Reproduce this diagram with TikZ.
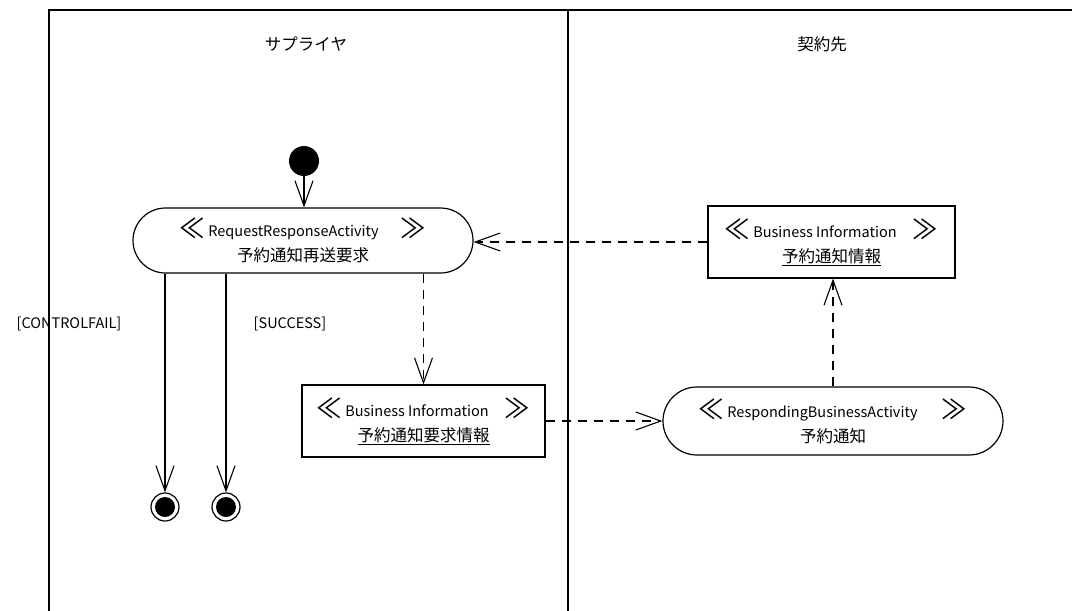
\documentclass[tikz,border=0pt]{standalone}
\usepackage{fontspec}
\usepackage{graphicx}
\setmainfont{Noto Sans CJK JP}
\usetikzlibrary{arrows.meta}
\newcommand{\jpl}[1]{{\fontsize{16.5}{25}\selectfont #1}}
\newcommand{\lguil}{\raisebox{-2pt}{\scalebox{1.5}[1.6]{\fontsize{17}{25}\selectfont ≪}}\hspace{3pt}}
\newcommand{\rguil}{\raisebox{-2pt}{\scalebox{1.5}[1.6]{\fontsize{17}{25}\selectfont ≫}}}
\begin{document}
\begin{tikzpicture}[x=1pt,y=-1pt,
  every node/.style={font=\fontsize{14.5}{25}\selectfont, inner sep=0pt},
  frame/.style={line width=1.3pt},
  actbox/.style={draw, line width=1.2pt, align=center, minimum width=340pt},
  infobox/.style={draw, line width=1.2pt, align=center, minimum height=72pt},
  arr/.style={line width=1.1pt, -{Straight Barb[length=25pt,width=18pt,line width=1.1pt]}},
  darr/.style={arr, dash pattern=on 9pt off 7pt},
  finalnode/.style={circle, draw, line width=1.2pt, minimum size=28pt,
    path picture={\fill (path picture bounding box.center) circle (10pt);}}
]
\useasboundingbox (0,0) rectangle (1072,611);
% swimlanes
\draw[frame] (49,611) -- (49,10) -- (1072,10);
\draw[frame] (568,10) -- (568,611);
\node (lane1) at (306,44) {\jpl{サプライヤ}};
\node (lane2) at (822,44) {\jpl{契約先}};

% start
\node[circle, fill, minimum size=30pt] (start) at (304,161) {};

% activities
\node[actbox, rounded corners=32.5pt, minimum height=65pt] (rra) at (303,240.5)
  {\lguil RequestResponseActivity\hspace{22pt}\rguil\\\jpl{予約通知再送要求}};
\node[actbox, rounded corners=34pt, minimum height=68pt] (rba) at (833,421)
  {\lguil RespondingBusinessActivity\hspace{24pt}\rguil\\\jpl{予約通知}};

% information boxes
\node[infobox, minimum width=243pt] (bi1) at (423.5,421)
  {\lguil Business Information\hspace{16pt}\rguil\\\jpl{\underline{予約通知要求情報}}};
\node[infobox, minimum width=247pt] (bi2) at (831.5,242)
  {\lguil Business Information\hspace{16pt}\rguil\\\jpl{\underline{予約通知情報}}};

% finals
\node[finalnode] (f1) at (165,507) {};
\node[finalnode] (f2) at (226,507) {};

% guards
\node (g1) at (69,324) {[CONTROLFAIL]};
\node (g2) at (290,324) {[SUCCESS]};

% flows
\draw[arr] (start) -- (start |- rra.north);
\draw[arr] (rra.south -| f1) -- (f1.north);
\draw[arr] (rra.south -| f2) -- (f2.north);
\draw[darr] (rra.south -| bi1) -- (bi1.north);
\draw[darr] (bi1.east) -- (rba.west);
\draw[darr] (rba.north) -- (rba.north |- bi2.south);
\draw[darr] (bi2.west) -- (bi2.west -| rra.east);
\end{tikzpicture}
\end{document}
